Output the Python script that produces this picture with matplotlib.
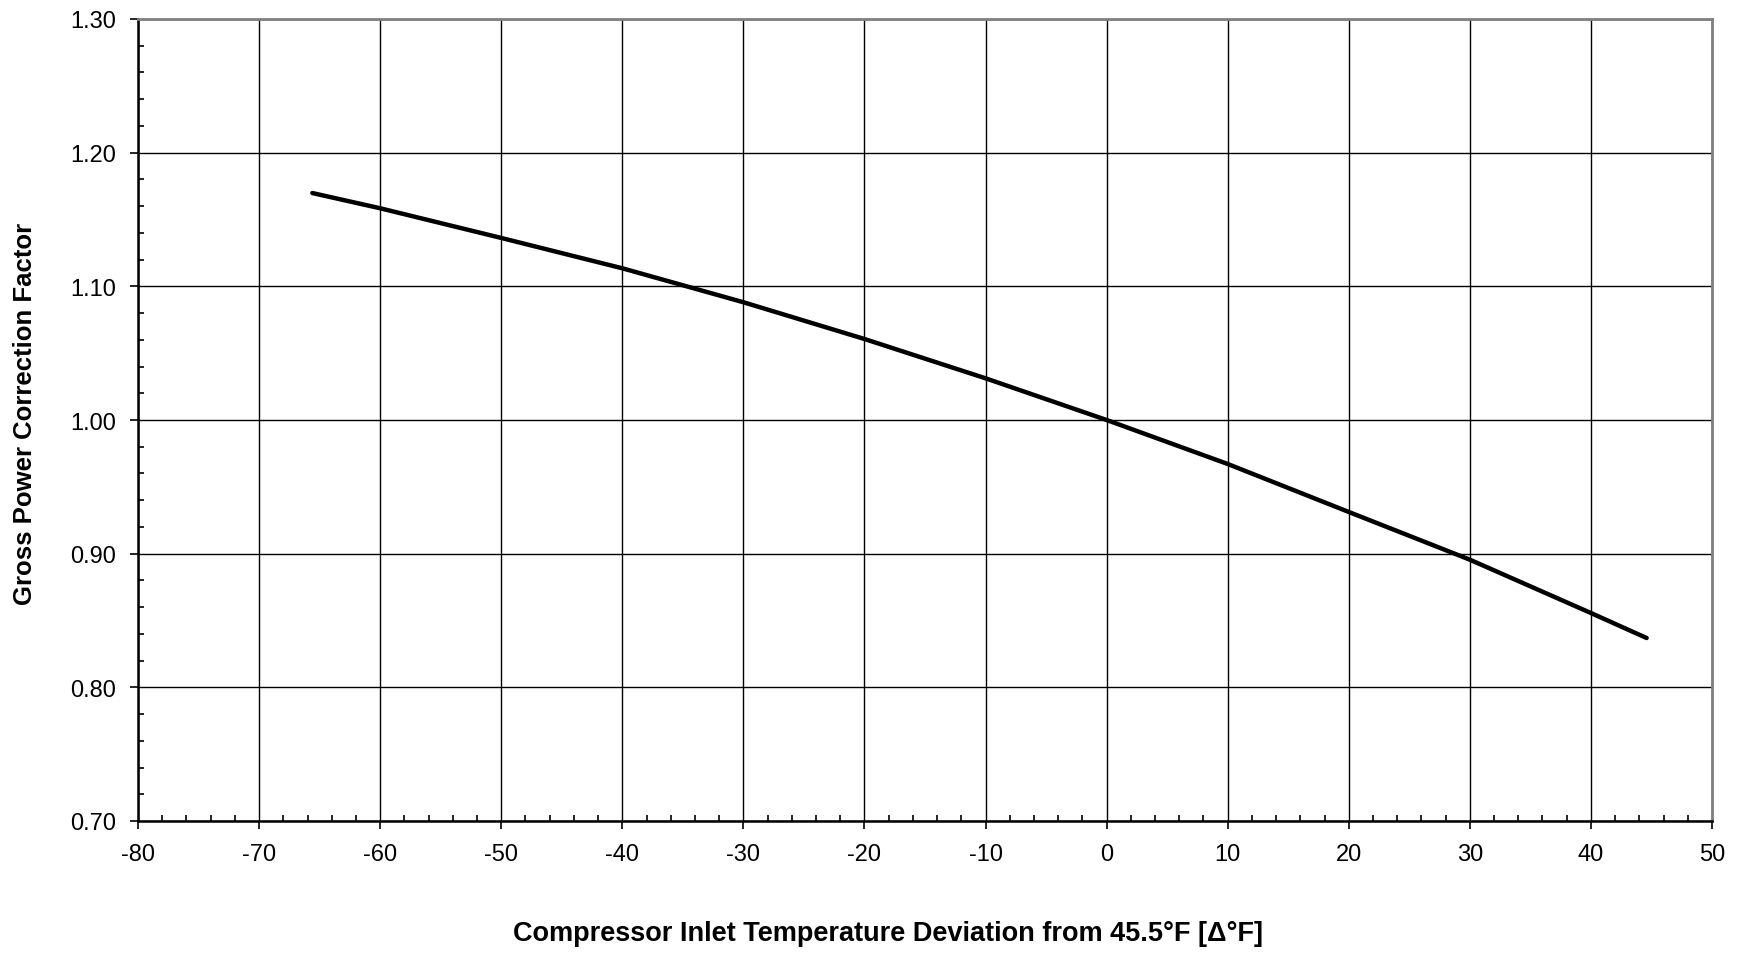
import matplotlib.pyplot as plt
from matplotlib.ticker import MultipleLocator, FormatStrFormatter

plt.rcParams['font.family'] = ['Liberation Sans', 'DejaVu Sans']
plt.rcParams['axes.unicode_minus'] = False

# curve
temp_dev = [-65.6, -60, -50, -40, -30, -20, -10, 0, 10, 20, 30, 40, 44.6]
power_factor = [1.1698, 1.1584, 1.1362, 1.1135, 1.0881, 1.0606, 1.0312,
                1.000, 0.9671, 0.9312, 0.8955, 0.8556, 0.8369]

fig = plt.figure(figsize=(17.43, 9.62), dpi=100)
ax = fig.add_axes([138 / 1743, 1 - 822 / 962, (1712 - 138) / 1743, (822 - 20) / 962])

ax.plot(temp_dev, power_factor, color='black', linewidth=3.2,
        solid_capstyle='round', solid_joinstyle='round', zorder=3)

ax.set_xlim(-80, 50)
ax.set_ylim(0.70, 1.30)
ax.xaxis.set_major_locator(MultipleLocator(10))
ax.xaxis.set_minor_locator(MultipleLocator(2))
ax.yaxis.set_major_locator(MultipleLocator(0.1))
ax.yaxis.set_minor_locator(MultipleLocator(0.02))
ax.yaxis.set_major_formatter(FormatStrFormatter('%.2f'))

ax.grid(True, which='major', color='black', linewidth=1.0)
ax.tick_params(which='major', direction='out', length=6, width=1.2,
               labelsize=17, pad=10)
ax.tick_params(which='minor', direction='in', length=4, width=1.2)
ax.tick_params(top=False, right=False, which='both')

for side in ['left', 'bottom']:
    ax.spines[side].set_linewidth(1.8)
    ax.spines[side].set_color('black')
for side in ['top', 'right']:
    ax.spines[side].set_linewidth(2.0)
    ax.spines[side].set_color('#808080')

fig.text(888 / 1743, 1 - 934 / 962,
         'Compressor Inlet Temperature Deviation from 45.5°F [Δ°F]',
         ha='center', va='center', fontsize=19.5, fontweight='bold')
fig.text(25 / 1743, 1 - 414 / 962, 'Gross Power Correction Factor',
         ha='center', va='center', rotation=90, fontsize=18.5, fontweight='bold')

fig.savefig('out.png', dpi=100, facecolor='white')
